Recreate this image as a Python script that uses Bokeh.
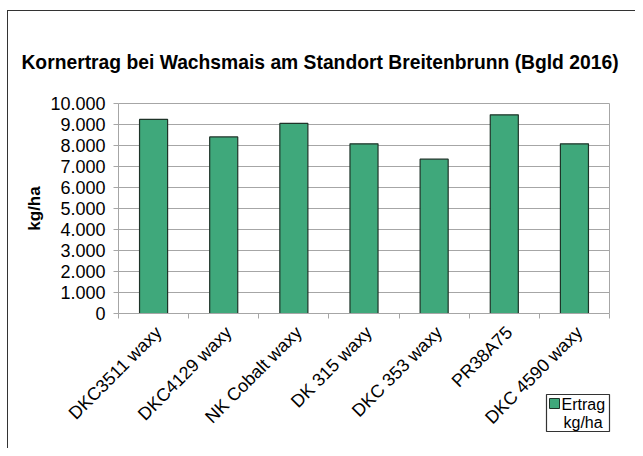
import math
from bokeh.plotting import figure
from bokeh.models import (ColumnDataSource, Range1d, FixedTicker, Label, LinearAxis)
from bokeh.embed import file_html
from bokeh.resources import INLINE

# ---- data ----
categories = ["DKC3511 waxy", "DKC4129 waxy", "NK Cobalt waxy", "DK 315 waxy",
              "DKC 353 waxy", "PR38A75", "DKC 4590 waxy"]
ertrag = [9240, 8410, 9050, 8080, 7350, 9460, 8080]
y_ticks = [0, 1000, 2000, 3000, 4000, 5000, 6000, 7000, 8000, 9000, 10000]
y_tick_labels = ["0", "1.000", "2.000", "3.000", "4.000", "5.000",
                 "6.000", "7.000", "8.000", "9.000", "10.000"]
title_text = "Kornertrag bei Wachsmais am Standort Breitenbrunn (Bgld 2016)"
y_label = "kg/ha"
legend_lines = ["Ertrag", "kg/ha"]

# ---- layout (pixels) ----
W, H = 635, 448
PL, PR, PT, PB = 118, 609, 103, 313       # plot area edges in canvas pixels
LEG_L, LEG_R, LEG_T, LEG_B = 546, 609, 394, 431   # legend box in canvas pixels
KEY_L, KEY_R, KEY_T, KEY_B = 549, 559, 398, 408   # legend key square
FONT = "Liberation Sans"
GRID = "#a6a6a6"
EDGE = "#333333"
BAR_FILL = "#3fa87b"
BAR_LINE = "#1e3328"

n = len(categories)
ymax = y_ticks[-1]
xs = n / (PR - PL)           # data units per px
ys = ymax / (PB - PT)
x_range = Range1d(-PL * xs, n + (W - PR) * xs)
y_range = Range1d(-(H - PB) * ys, ymax + PT * ys)


def px_x(px):
    return (px - PL) * xs


def px_y(py):
    return (PB - py) * ys


xpos = [i + 0.5 for i in range(n)]
label_pos = [x + 5 * xs for x in xpos]     # category labels nudged 5px right
src = ColumnDataSource(dict(x=xpos, top=ertrag))


def css_line(x, y, w, h):
    return f"linear-gradient({EDGE},{EDGE}) {x}px {y}px / {w}px {h}px no-repeat"


bg_lines = [css_line(7, 10, 1, 2000), css_line(7, 10, 2000, 1)]   # chart border

p = figure(width=W, height=H, output_backend="svg", toolbar_location=None,
           x_range=x_range, y_range=y_range, x_axis_location=None,
           y_axis_location=None, min_border=0)
p.background_fill_color = None
p.border_fill_color = None
p.outline_line_color = None
p.grid.visible = False
p.styles = {"background": ", ".join(bg_lines) + ", white"}

# grid lines and plot-area edge
p.segment(x0=[0] * (len(y_ticks) - 1), x1=[n] * (len(y_ticks) - 1),
          y0=y_ticks[1:], y1=y_ticks[1:], line_color=GRID, line_width=1)
p.segment(x0=[n], x1=[n], y0=[0], y1=[ymax], line_color=GRID, line_width=1)

p.vbar(x="x", top="top", width=0.4, bottom=0, source=src,
       fill_color=BAR_FILL, line_color=BAR_LINE, line_width=1.2)

# legend: frame, key square and two text lines
p.quad(left=[px_x(LEG_L)], right=[px_x(LEG_R)], top=[px_y(LEG_T)],
       bottom=[px_y(LEG_B)], fill_color="white", line_color=EDGE, line_width=1.2)
p.quad(left=[px_x(KEY_L)], right=[px_x(KEY_R)], top=[px_y(KEY_T)],
       bottom=[px_y(KEY_B)], fill_color=BAR_FILL, line_color=BAR_LINE, line_width=1)
p.add_layout(Label(x=KEY_R + 2, y=H - 403.5, x_units="screen", y_units="screen",
                   text=legend_lines[0], text_align="left", text_baseline="middle",
                   text_font=FONT, text_font_size="16px", text_color="black"))
p.add_layout(Label(x=KEY_R + 4, y=H - 421.5, x_units="screen", y_units="screen",
                   text=legend_lines[1], text_align="left", text_baseline="middle",
                   text_font=FONT, text_font_size="16px", text_color="black"))

# x axis
xa = LinearAxis(fixed_location=0, bounds=(0, n))
xa.ticker = FixedTicker(ticks=label_pos, minor_ticks=list(range(n + 1)))
xa.major_label_overrides = {x: c for x, c in zip(label_pos, categories)}
xa.major_tick_line_color = None
xa.minor_tick_line_color = GRID
xa.minor_tick_in = 0
xa.minor_tick_out = 5
xa.axis_line_color = GRID
xa.major_label_orientation = math.pi / 4
xa.major_label_text_font = FONT
xa.major_label_text_font_size = "18px"
xa.major_label_text_color = "black"
xa.major_label_standoff = 10
p.add_layout(xa, "below")

# y axis
ya = LinearAxis(fixed_location=0, bounds=(0, ymax))
ya.ticker = FixedTicker(ticks=y_ticks, minor_ticks=[])
ya.major_label_overrides = {t: l for t, l in zip(y_ticks, y_tick_labels)}
ya.major_tick_line_color = GRID
ya.major_tick_in = 0
ya.major_tick_out = 5
ya.minor_tick_line_color = None
ya.axis_line_color = GRID
ya.major_label_text_font = FONT
ya.major_label_text_font_size = "18px"
ya.major_label_text_color = "black"
ya.major_label_standoff = 8
ya.axis_label = y_label
ya.axis_label_text_font = FONT
ya.axis_label_text_font_size = "17px"
ya.axis_label_text_font_style = "bold"
ya.axis_label_text_color = "black"
ya.axis_label_standoff = 3
p.add_layout(ya, "left")

# title
p.add_layout(Label(x=319.5, y=H - 62, x_units="screen", y_units="screen", text=title_text,
                   text_align="center", text_baseline="middle", text_font=FONT,
                   text_font_size="19.3px", text_font_style="bold", text_color="black"))

open("out.html", "w").write(file_html(p, INLINE))
